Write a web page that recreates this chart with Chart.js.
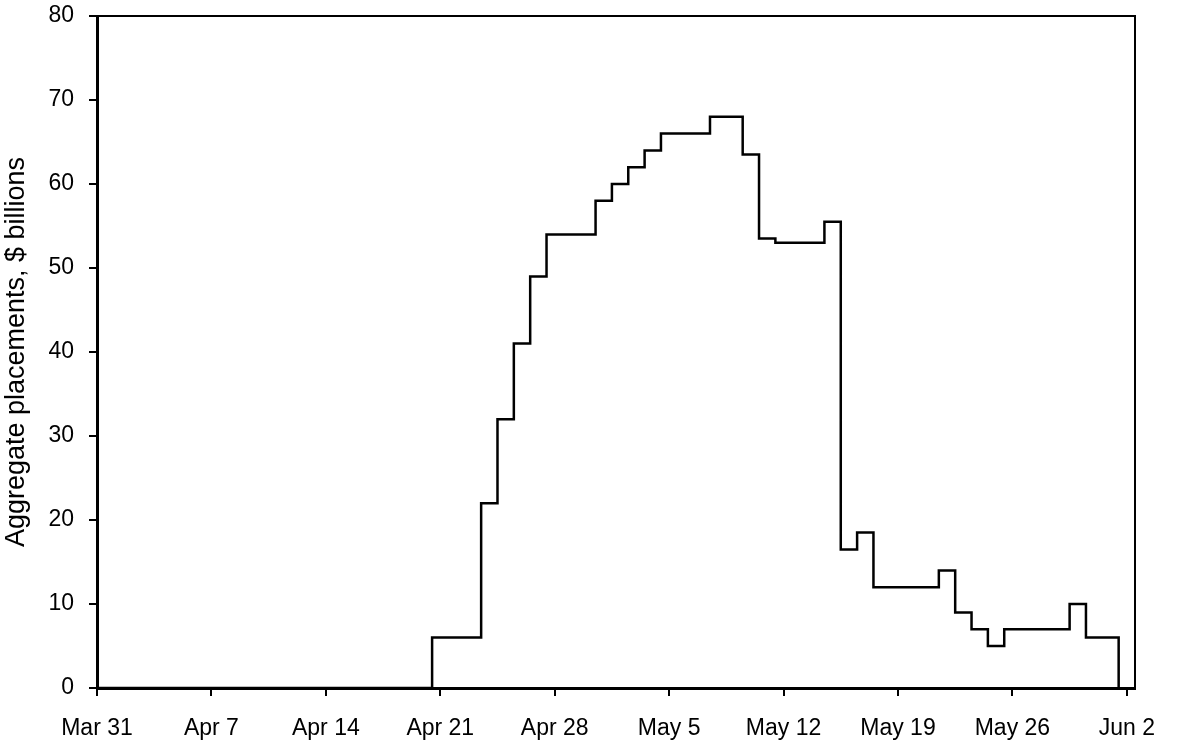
<!DOCTYPE html>
<html>
<head>
<meta charset="utf-8">
<script src="https://cdn.jsdelivr.net/npm/chart.js@4.4.1/dist/chart.umd.min.js"></script>
<style>
  html, body { margin: 0; padding: 0; background: #fff; }
  #wrap { width: 1178px; height: 747px; position: relative; }
</style>
</head>
<body>
<div id="wrap"><canvas id="placementsChart"></canvas></div>
<script>
// x = days since Mar 31; each value holds until the next step
const stepDay = [0, 20.5, 23.5, 24.5, 25.5, 26.5, 27.5, 30.5, 31.5, 32.5, 33.5, 34.5, 37.5,
  39.5, 40.5, 41.5, 44.5, 45.5, 46.5, 47.5, 51.5, 52.5, 53.5, 54.5, 55.5, 59.5, 60.5, 61.5, 62.5];
const placements = [0, 6, 22, 32, 41, 49, 54, 58, 60, 62, 64, 66, 68,
  63.5, 53.5, 53, 55.5, 16.5, 18.5, 12, 14, 9, 7, 5, 7, 10, 6, 6, 0];

const tickDays = [0, 7, 14, 21, 28, 35, 42, 49, 56, 63];
const tickLabels = ["Mar 31", "Apr 7", "Apr 14", "Apr 21", "Apr 28", "May 5", "May 12", "May 19", "May 26", "Jun 2"];
const yTicks = [0, 10, 20, 30, 40, 50, 60, 70, 80];

const FONT = "'Liberation Sans', Arial, sans-serif";

// top and right edges of the frame
const frame = {
  id: "frame",
  afterDraw(chart) {
    const a = chart.chartArea;
    const c = chart.ctx;
    c.save();
    c.strokeStyle = "#000";
    c.lineWidth = 2;
    c.beginPath();
    c.moveTo(a.left, a.top);
    c.lineTo(a.right, a.top);
    c.lineTo(a.right, a.bottom);
    c.stroke();
    c.restore();
  },
};

new Chart(document.getElementById("placementsChart"), {
  type: "line",
  data: {
    datasets: [
      {
        data: stepDay.map((d, i) => ({ x: d, y: placements[i] })),
        borderColor: "#000",
        borderWidth: 2.5,
        pointRadius: 0,
        stepped: "before",
        fill: false,
      },
    ],
  },
  options: {
    responsive: true,
    maintainAspectRatio: false,
    animation: false,
    layout: { padding: { left: 0, top: 16, right: 43, bottom: 0 } },
    plugins: { legend: { display: false }, tooltip: { enabled: false } },
    scales: {
      x: {
        type: "linear",
        min: 0,
        max: 63.5,
        afterBuildTicks: (s) => { s.ticks = tickDays.map((v) => ({ value: v })); },
        afterFit: (s) => { s.height = 59; },
        grid: { drawOnChartArea: false, drawTicks: true, tickLength: 8, color: "#000", lineWidth: 2 },
        border: { display: true, color: "#000", width: 3 },
        ticks: {
          color: "#000",
          font: { family: FONT, size: 23 },
          padding: 19,
          maxRotation: 0,
          autoSkip: false,
          callback: (v) => tickLabels[tickDays.indexOf(v)],
        },
      },
      y: {
        min: 0,
        max: 80,
        afterBuildTicks: (s) => { s.ticks = yTicks.map((v) => ({ value: v })); },
        afterFit: (s) => { s.width = 97; s.paddingTop = 0; s.paddingBottom = 0; },
        grid: { drawOnChartArea: false, drawTicks: true, tickLength: 8, color: "#000", lineWidth: 2 },
        border: { display: true, color: "#000", width: 3 },
        ticks: { color: "#000", font: { family: FONT, size: 23 }, padding: 15 },
        title: {
          display: true,
          text: "Aggregate placements, $ billions",
          color: "#000",
          font: { family: FONT, size: 27 },
          padding: { top: 0, bottom: 0 },
        },
      },
    },
  },
  plugins: [frame],
});
</script>
</body>
</html>
